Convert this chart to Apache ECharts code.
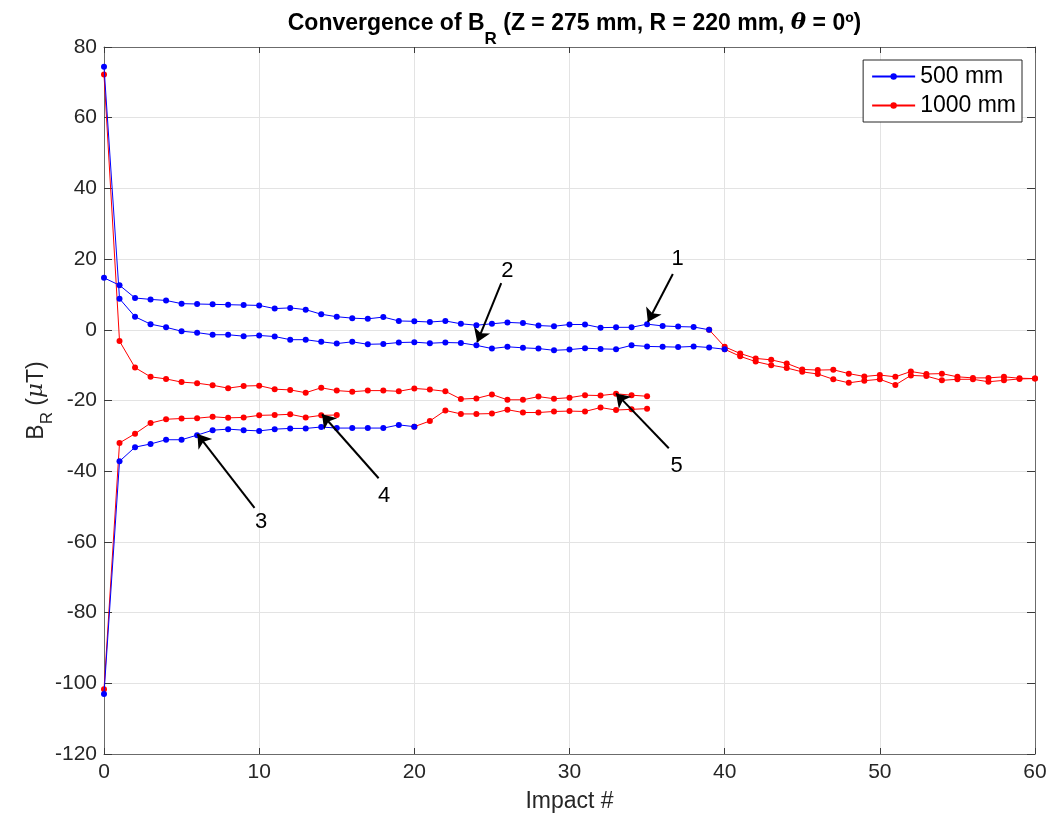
<!DOCTYPE html>
<html><head><meta charset="utf-8">
<script src="https://cdn.jsdelivr.net/npm/echarts@6/dist/echarts.min.js"></script>
<style>html,body{margin:0;padding:0;background:#fff}#c{width:1050px;height:818px}</style>
</head><body><div id="c"></div>
<script>
// ---- data (x = impact #, y = B_R in µT) ----
const xTicks = [0, 10, 20, 30, 40, 50, 60];
const yTicks = [-120, -100, -80, -60, -40, -20, 0, 20, 40, 60, 80];

// 500 mm runs
const blue1Start = 0;
const blue1 = [14.7, 12.6, 9.0, 8.6, 8.3, 7.4, 7.3, 7.2, 7.1, 7.0, 6.9, 6.0, 6.2, 5.7, 4.4, 3.7, 3.3, 3.1, 3.6, 2.5,
  2.4, 2.2, 2.5, 1.7, 1.3, 1.7, 2.1, 1.9, 1.2, 1.0, 1.5, 1.5, 0.6, 0.7, 0.7, 1.6, 1.1, 0.9, 0.8, 0.0];
const blue2Start = 0;
const blue2 = [74.4, 8.8, 3.7, 1.6, 0.7, -0.4, -0.8, -1.4, -1.4, -1.8, -1.6, -1.9, -2.8, -2.8, -3.4, -3.9, -3.4, -4.1, -4.0, -3.6,
  -3.5, -3.8, -3.6, -3.7, -4.4, -5.3, -4.8, -5.1, -5.3, -5.8, -5.6, -5.2, -5.4, -5.5, -4.4, -4.7, -4.8, -4.9, -4.7, -5.0, -5.5];
const blue3Start = 0;
const blue3 = [-103.0, -37.2, -33.2, -32.3, -31.1, -31.1, -29.8, -28.4, -28.1, -28.4, -28.6, -28.1, -27.9, -27.9, -27.5, -27.8,
  -27.8, -27.8, -27.8, -26.9, -27.4];

// 1000 mm runs
const red1Start = 0;
const red1 = [72.2, -3.2, -10.7, -13.3, -13.9, -14.8, -15.1, -15.7, -16.5, -15.9, -15.8, -16.8, -17.0, -17.8, -16.4, -17.2,
  -17.5, -17.2, -17.2, -17.4, -16.6, -16.9, -17.4, -19.6, -19.4, -18.3, -19.8, -19.8, -18.9, -19.5, -19.2, -18.5, -18.6, -18.1, -18.5, -18.8];
const red2Start = 0;
const red2 = [-101.7, -32.0, -29.4, -26.4, -25.3, -25.1, -25.0, -24.6, -24.9, -24.8, -24.2, -24.1, -23.9, -24.8, -24.2, -24.1];
const red3Start = 20;
const red3 = [-27.4, -25.8, -22.8, -23.8, -23.8, -23.7, -22.6, -23.4, -23.4, -23.1, -23.0, -23.1, -22.0, -22.7, -22.5, -22.3];
const red4Start = 39;
const red4 = [0.0, -4.8, -6.7, -8.1, -8.5, -9.5, -11.2, -11.4, -11.3, -12.4, -13.2, -12.8, -13.3, -11.8, -12.5, -12.4, -13.3,
  -13.6, -13.6, -13.3, -13.7, -13.8];
const red5Start = 40;
const red5 = [-5.5, -7.5, -9.0, -10.0, -10.8, -11.9, -12.5, -14.0, -15.0, -14.4, -14.0, -15.6, -12.9, -13.1, -14.3, -14.0,
  -14.0, -14.7, -14.3, -13.9, -13.8];

// annotations (data space): label, text position, arrow tail, arrow head
const annLabels = ['1', '2', '3', '4', '5'];
const annText = [[36.97, 20.0], [26.0, 16.7], [10.13, -54.4], [18.06, -47.0], [36.9, -38.6]];
const annTail = [[36.66, 15.8], [25.6, 13.2], [9.7, -50.4], [17.7, -42.0], [36.4, -33.5]];
const annHead = [[35.05, 2.2], [24.05, -3.5], [6.02, -29.5], [14.05, -23.9], [33.0, -18.0]];

// ---- chart ----
const FONT = '"Liberation Sans", Arial, Helvetica, sans-serif';
const BLUE = '#0000ff', RED = '#ff0000';
function mk(name, color, start, vals, z) {
  return {
    type: 'line', name: name, z: z,
    data: vals.map((v, i) => [start + i, v]),
    symbol: 'circle', symbolSize: 6, showSymbol: true, showAllSymbol: true,
    lineStyle: { color: color, width: 1 },
    itemStyle: { color: color },
    emphasis: { disabled: true },
    animation: false
  };
}

const series = [
  mk('1000 mm', RED, red1Start, red1, 2),
  mk('1000 mm', RED, red2Start, red2, 2),
  mk('1000 mm', RED, red3Start, red3, 2),
  mk('1000 mm', RED, red4Start, red4, 2),
  mk('1000 mm', RED, red5Start, red5, 2),
  mk('500 mm', BLUE, blue1Start, blue1, 3),
  mk('500 mm', BLUE, blue2Start, blue2, 3),
  mk('500 mm', BLUE, blue3Start, blue3, 3)
];
series.push({
  type: 'line', name: 'annotations', data: [], z: 5, silent: true, animation: false,
  markLine: {
    silent: true, animation: false,
    symbol: ['none', 'arrow'], symbolSize: 13,
    lineStyle: { color: '#000', width: 2, type: 'solid' },
    itemStyle: { color: '#000' },
    label: { show: false },
    emphasis: { disabled: true },
    data: annTail.map((t, i) => [{ coord: t }, { coord: annHead[i] }])
  },
  markPoint: {
    silent: true, animation: false,
    symbol: 'circle', symbolSize: 1,
    itemStyle: { color: 'rgba(0,0,0,0)' },
    label: { show: true, position: 'inside', color: '#000', fontSize: 22, fontFamily: FONT, formatter: p => p.name },
    data: annText.map((c, i) => ({ name: annLabels[i], coord: c }))
  }
});

const axisLineCol = '#6b6b6b';
const tickCol = '#3a3a3a';
const chart = echarts.init(document.getElementById('c'), null, { renderer: 'canvas' });
chart.setOption({
  backgroundColor: '#fff',
  animation: false,
  title: {
    left: 569.5, top: -6, textAlign: 'center',
    text: '{b|Convergence of B}{s|R}{b| (Z = 275 mm, R = 220 mm, }{i|θ}{b| = 0º)}',
    textStyle: {
      rich: {
        b: { fontSize: 23, fontWeight: 'bold', color: '#000', fontFamily: FONT },
        s: { fontSize: 17, fontWeight: 'bold', color: '#000', fontFamily: FONT, padding: [32, 0, 0, 0] },
        i: { fontSize: 23, fontStyle: 'italic', color: '#000', fontFamily: '"DejaVu Serif", serif' }
      }
    }
  },
  legend: {
    data: ['500 mm', '1000 mm'],
    orient: 'vertical', right: 28, top: 60,
    itemWidth: 43, itemHeight: 8, itemGap: 6,
    padding: [5, 6, 5, 8],
    backgroundColor: '#fff', borderColor: '#262626', borderWidth: 1,
    textStyle: { fontSize: 23, color: '#000', fontFamily: FONT },
    selectedMode: false
  },
  grid: { left: 104, right: 15, top: 47, bottom: 61, containLabel: false },
  xAxis: [{
    type: 'value', min: xTicks[0], max: xTicks[xTicks.length - 1], interval: 10,
    name: 'Impact #', nameLocation: 'middle', nameGap: 36,
    nameTextStyle: { fontSize: 23, color: '#262626', fontFamily: FONT },
    axisLine: { show: true, onZero: false, lineStyle: { color: axisLineCol, width: 1 } },
    axisTick: { show: true, inside: true, length: 6, lineStyle: { color: tickCol } },
    axisLabel: { fontSize: 21, color: '#262626', margin: 8, fontFamily: FONT },
    splitLine: { show: true, lineStyle: { color: '#e3e3e3', width: 1 } }
  }, {
    type: 'value', position: 'top', min: 0, max: 60, interval: 10,
    axisLine: { show: true, onZero: false, lineStyle: { color: axisLineCol, width: 1 } },
    axisTick: { show: true, inside: true, length: 6, lineStyle: { color: tickCol } },
    axisLabel: { show: false }, splitLine: { show: false }
  }],
  yAxis: [{
    type: 'value', min: yTicks[0], max: yTicks[yTicks.length - 1], interval: 20,
    name: '{n|B}{s|R}{n| (}{i|μ}{n|T)}', nameLocation: 'middle', nameGap: 48, nameRotate: 90,
    nameMoveOverlap: false,
    nameTextStyle: {
      rich: {
        n: { fontSize: 23, color: '#262626', fontFamily: FONT },
        s: { fontSize: 17, color: '#262626', fontFamily: FONT, padding: [22, 0, 0, 0] },
        i: { fontSize: 23, fontStyle: 'italic', color: '#262626', fontFamily: '"DejaVu Serif", serif' }
      }
    },
    axisLine: { show: true, onZero: false, lineStyle: { color: axisLineCol, width: 1 } },
    axisTick: { show: true, inside: true, length: 8, lineStyle: { color: tickCol } },
    axisLabel: { fontSize: 21, color: '#262626', margin: 7, fontFamily: FONT },
    splitLine: { show: true, lineStyle: { color: '#e3e3e3', width: 1 } }
  }, {
    type: 'value', position: 'right', min: -120, max: 80, interval: 20,
    axisLine: { show: true, onZero: false, lineStyle: { color: axisLineCol, width: 1 } },
    axisTick: { show: true, inside: true, length: 8, lineStyle: { color: tickCol } },
    axisLabel: { show: false }, splitLine: { show: false }
  }],
  series: series
});
</script>
</body></html>
